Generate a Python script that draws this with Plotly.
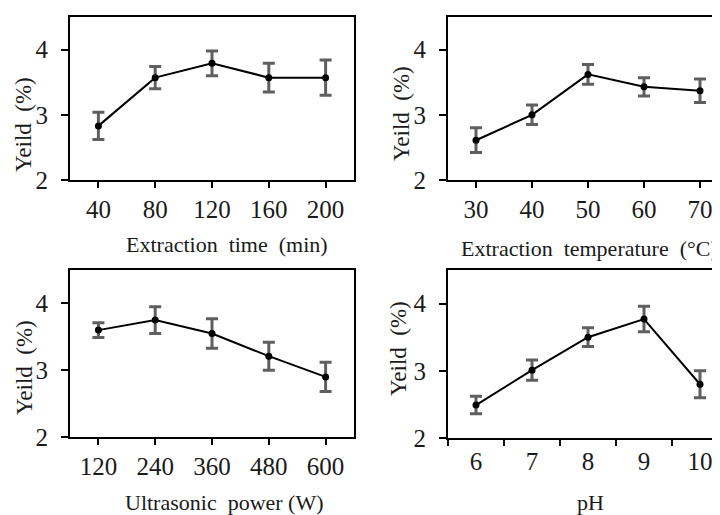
import plotly.graph_objects as go

# extraction time panel
time_labels = ["40", "80", "120", "160", "200"]
time_yield = [2.83, 3.57, 3.79, 3.57, 3.57]
time_err = [0.21, 0.17, 0.19, 0.22, 0.27]

# extraction temperature panel
temp_labels = ["30", "40", "50", "60", "70"]
temp_yield = [2.61, 3.00, 3.62, 3.43, 3.37]
temp_err = [0.19, 0.15, 0.15, 0.14, 0.18]

# ultrasonic power panel
power_labels = ["120", "240", "360", "480", "600"]
power_yield = [3.60, 3.75, 3.55, 3.21, 2.90]
power_err = [0.11, 0.20, 0.22, 0.21, 0.22]

# pH panel
ph_labels = ["6", "7", "8", "9", "10"]
ph_yield = [2.49, 3.01, 3.50, 3.77, 2.80]
ph_err = [0.13, 0.15, 0.14, 0.19, 0.20]

FONT = "Liberation Serif"
OFF = 8  # page body margin
W, H = 720 - OFF, 515 - OFF
SP = "\u00a0"


def px(x):
    return (x - OFF) / W


def py(y):
    return 1 - (y - OFF) / H


panels = [
    # labels, values, errors, x span px, y span px (top, bottom), title, title pos, ytitle pos, right cut, ticks between
    (time_labels, time_yield, time_err, (70, 354), (17, 180), "Extraction" + SP + " time" + SP + " (min)", (227, 245), (23, 125), False, False),
    (temp_labels, temp_yield, temp_err, (448, 728), (17, 180), "Extraction" + SP + " temperature" + SP + " (\u00b0C)", (589, 248), (402, 114), True, False),
    (power_labels, power_yield, power_err, (70, 354), (270, 437), "Ultrasonic" + SP + " power (W)", (224, 502), (24, 368), False, False),
    (ph_labels, ph_yield, ph_err, (448, 728), (270, 438), "pH", (590, 502), (398, 348), True, True),
]

fig = go.Figure()
annotations = []
for i, (labels, vals, errs, xd, yd, xtitle, tpos, ypos, cut, between) in enumerate(panels):
    n = i + 1
    xa = "x" if n == 1 else "x%d" % n
    ya = "y" if n == 1 else "y%d" % n
    fig.add_trace(go.Scatter(
        x=labels, y=vals, xaxis=xa, yaxis=ya, mode="lines+markers",
        line=dict(color="black", width=2),
        marker=dict(color="black", size=7),
        error_y=dict(type="data", array=errs, visible=True, color="#5f5f5f", thickness=3, width=6),
        showlegend=False,
    ))
    # right-hand panels are cut at the image edge
    right = min(xd[1], 720)
    upper = 4.5 - (xd[1] - right) / ((xd[1] - xd[0]) / 5.0)
    xaxis = dict(
        domain=[px(xd[0]), px(right)], type="category", range=[-0.5, upper],
        showline=True, linecolor="black", linewidth=2, mirror=True,
        ticks="outside", ticklen=6, tickwidth=2, tickcolor="black",
        tickson="boundaries" if between else "labels",
        tickfont=dict(family=FONT, size=25, color="#1a1a1a"),
        showgrid=False, zeroline=False, anchor=ya, fixedrange=True, automargin=False,
    )
    yaxis = dict(
        domain=[py(yd[1]), py(yd[0])], range=[2, 4.5],
        tickvals=[2, 3, 4], ticktext=["2", "3", "4"],
        showline=True, linecolor="black", linewidth=2, mirror=False if cut else True,
        ticks="outside", ticklen=7, tickwidth=2, tickcolor="black",
        ticklabelstandoff=8,
        tickfont=dict(family=FONT, size=25, color="#1a1a1a"),
        showgrid=False, zeroline=False, anchor=xa, fixedrange=True, automargin=False,
    )
    fig.update_layout(**{("xaxis" if n == 1 else "xaxis%d" % n): xaxis,
                         ("yaxis" if n == 1 else "yaxis%d" % n): yaxis})
    annotations.append(dict(
        text=xtitle, x=px(tpos[0]), y=py(tpos[1]), xref="paper", yref="paper",
        xanchor="center", yanchor="middle", showarrow=False,
        font=dict(family=FONT, size=22, color="#1a1a1a"),
    ))
    annotations.append(dict(
        text="Yeild" + SP + " (%)", x=px(ypos[0]), y=py(ypos[1]), xref="paper", yref="paper",
        xanchor="center", yanchor="middle", showarrow=False, textangle=-90,
        font=dict(family=FONT, size=23, color="#1a1a1a"),
    ))

fig.update_layout(
    width=W, height=H,
    margin=dict(l=0, r=0, t=0, b=0),
    paper_bgcolor="white", plot_bgcolor="white",
    annotations=annotations,
)

fig.write_html("out.html")
